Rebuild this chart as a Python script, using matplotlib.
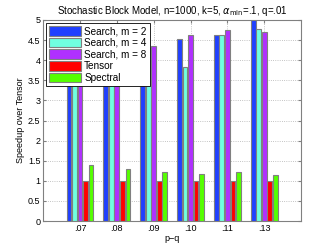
import numpy as np
import matplotlib
matplotlib.use('Agg')
import matplotlib.pyplot as plt

plt.rcParams['font.family'] = ['Liberation Sans', 'DejaVu Sans']

groups = ['.07', '.08', '.09', '.10', '.11', '.13']
search_m2 = [4.10, 4.20, 4.28, 4.53, 4.62, 5.00]
search_m4 = [4.00, 4.10, 4.30, 3.82, 4.62, 4.77]
search_m8 = [4.20, 4.30, 4.35, 4.62, 4.75, 4.70]
tensor = [1.0, 1.0, 1.0, 1.0, 1.0, 1.0]
spectral = [1.40, 1.29, 1.22, 1.17, 1.22, 1.15]

series = [search_m2, search_m4, search_m8, tensor, spectral]
names = ['Search, m = 2', 'Search, m = 4', 'Search, m = 8', 'Tensor', 'Spectral']
colors = ['#2040ff', '#70ffe0', '#b030ff', '#ff0000', '#55ff00']

fig = plt.figure(figsize=(3.32, 2.49), dpi=100)
ax = fig.add_axes([0.13, 0.112, 0.777, 0.808])

x = np.arange(1, len(groups) + 1)
step = 0.15
for i, (vals, nm, c) in enumerate(zip(series, names, colors)):
    ax.bar(x + (i - 2) * step, vals, width=0.13, color=c, edgecolor='#808080',
           linewidth=0.8, label=nm, zorder=3)

ax.set_xlim(0, 7)
ax.set_ylim(0, 5)
ax.set_xticks(x)
ax.set_xticklabels(groups)
ax.set_yticks(np.arange(0, 5.01, 0.5))
ax.set_yticklabels(['0', '0.5', '1', '1.5', '2', '2.5', '3', '3.5', '4', '4.5', '5'])
ax.tick_params(direction='in', length=2, labelsize=6.5, top=True, right=True,
               color='#808080', pad=2)
for sp in ax.spines.values():
    sp.set_color('#808080')
ax.grid(True, linestyle=':', color='#b0b0b0', linewidth=0.6, zorder=0)
ax.set_axisbelow(True)

ax.set_xlabel('p\u2212q', fontsize=6.5, labelpad=1)
ax.set_ylabel('Speedup over Tensor', fontsize=6.5, labelpad=2)
ax.set_title(r'Stochastic Block Model, n=1000, k=5, $\alpha_{\mathrm{min}}$=.1, q=.01',
             fontsize=7, pad=4)

leg = ax.legend(loc='upper left', fontsize=7.2, frameon=True, fancybox=False,
                edgecolor='black', framealpha=1, borderpad=0.3, labelspacing=0.15,
                handlelength=3.2, handleheight=1.1, handletextpad=0.3,
                borderaxespad=0.3)
leg.get_frame().set_linewidth(0.6)

fig.savefig('out.png', dpi=100)
